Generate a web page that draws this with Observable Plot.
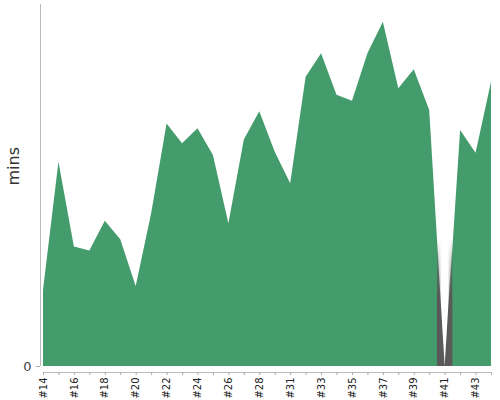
<!DOCTYPE html>
<html>
<head>
<meta charset="utf-8">
<script src="https://cdn.jsdelivr.net/npm/d3@7"></script>
<script src="https://cdn.jsdelivr.net/npm/@observablehq/plot@0.6"></script>
<style>
  html, body { margin: 0; padding: 0; background: #fff; }
</style>
</head>
<body>
<div id="chart"></div>
<script>
const categories = ["#14","#15","#16","#17","#18","#19","#20","#21","#22","#23","#24","#25","#26","#27","#28","#29",
  "#31","#32","#33","#34","#35","#36","#37","#38","#39","#40","#41","#42","#43","#44"];
const minutes = [21.0, 56.4, 33.0, 31.9, 40.1, 35.0, 22.1, 42.2, 67.0, 61.5, 65.7, 58.3, 39.4, 62.6, 70.4, 59.2,
  50.5, 79.9, 86.4, 74.9, 73.3, 86.4, 95.1, 76.7, 82.0, 70.7, 0, 65.2, 58.9, 78.5];
const tickLabels = ["#14","#16","#18","#20","#22","#24","#26","#28","#31","#33","#35","#37","#39","#41","#43"];
const gapCategories = ["#41"];
const gapTops = [35];
const yTicks = [0];

const data = categories.map((c, i) => ({episode: c, mins: minutes[i]}));
const labelSet = new Set(tickLabels);

function gapMark(index, scales, values, dimensions, context) {
  const x = scales.x, y = scales.y;
  const step = x(categories[1]) - x(categories[0]);
  const g = d3.create("svg:g");
  const defs = g.append("defs");
  const vgrad = defs.append("linearGradient").attr("id", "gapvgrad")
    .attr("x1", "0").attr("x2", "0").attr("y1", "0").attr("y2", "1");
  [[0, 0], [0.25, 0.6], [0.45, 1], [1, 1]].forEach(([o, a]) =>
    vgrad.append("stop").attr("offset", o).attr("stop-color", "#595959").attr("stop-opacity", a));
  const grad = defs.append("linearGradient").attr("id", "gapgrad")
    .attr("x1", "0").attr("x2", "1").attr("y1", "0").attr("y2", "0");
  [[0, 0], [0.3, 1], [0.7, 1], [1, 0]].forEach(([o, a]) =>
    grad.append("stop").attr("offset", o).attr("stop-color", "#ffffff").attr("stop-opacity", a));
  gapCategories.forEach((c, i) => {
    const cx = x(c), y0 = y(0), y1 = y(gapTops[i]);
    g.append("rect")
      .attr("x", cx - step / 2).attr("width", step)
      .attr("y", y1).attr("height", y0 - y1)
      .attr("fill", "url(#gapvgrad)");
    g.append("path")
      .attr("d", `M${cx - step / 2},${y1}L${cx + step / 2},${y1}L${cx},${y0}Z`)
      .attr("fill", "url(#gapgrad)");
  });
  return g.node();
}

const chart = Plot.plot({
  width: 500,
  height: 400,
  marginLeft: 43,
  marginRight: 9,
  marginTop: 4,
  marginBottom: 34,
  x: {type: "point", domain: categories, padding: 0, round: false, label: null},
  y: {domain: [0, 100], label: null},
  style: {fontFamily: "DejaVu Sans, sans-serif", background: "white", color: "#333"},
  marks: [
    Plot.areaY(data, {x: "episode", y: "mins", fill: "#449c6d"}),
    gapMark,
    Plot.ruleX([categories[0]], {dx: -3, stroke: "#bbb"}),
    Plot.axisY({ticks: yTicks, tickSize: 4, dx: -3, fontSize: 13, stroke: "#aaa", fill: "#444", label: null}),
    Plot.ruleY([0], {dy: 6, stroke: "#bbb"}),
    Plot.axisX({tickRotate: -90, tickSize: 3, dy: 6, tickPadding: 2, fontSize: 10, stroke: "#aaa", fill: "#222",
      tickFormat: d => labelSet.has(d) ? d : "", label: null}),
    Plot.text(["mins"], {frameAnchor: "left", dx: -30, rotate: -90, fontSize: 16, fill: "#333"})
  ]
});
document.getElementById("chart").appendChild(chart);
</script>
</body>
</html>
